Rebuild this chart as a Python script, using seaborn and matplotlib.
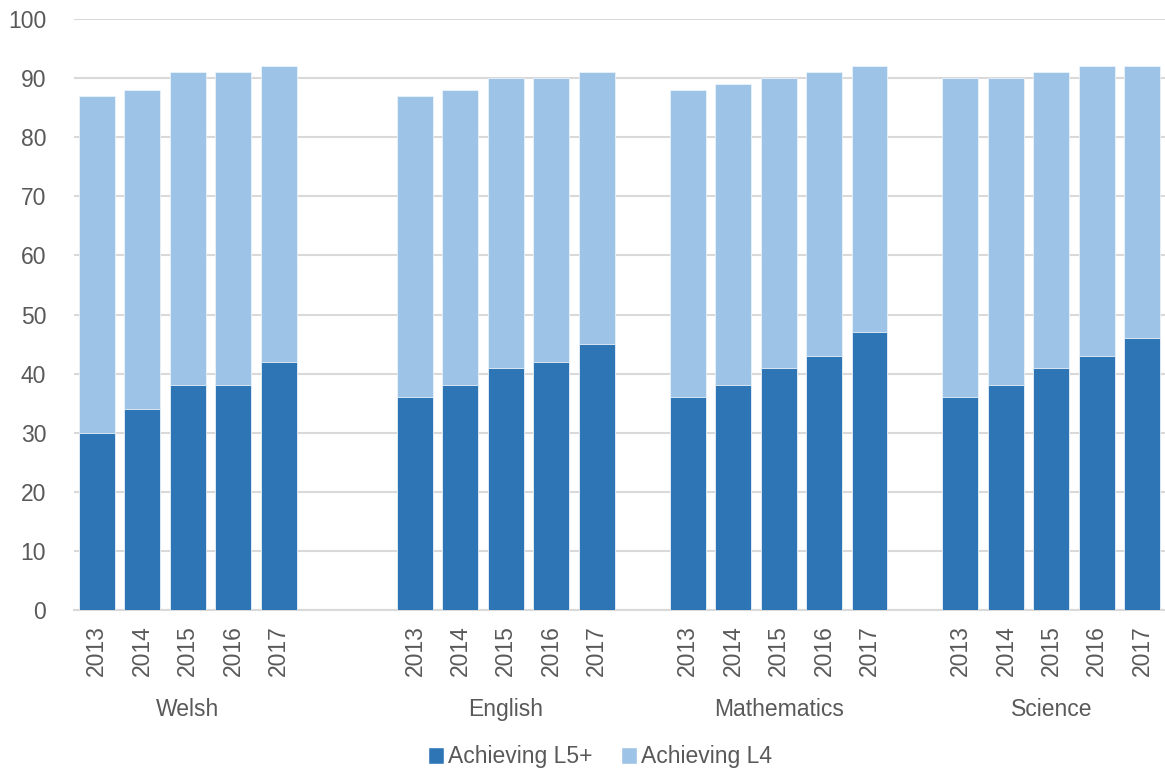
import matplotlib
matplotlib.use("Agg")
import matplotlib.pyplot as plt
import seaborn as sns
import pandas as pd
from matplotlib.patches import Patch

subjects = ["Welsh", "English", "Mathematics", "Science"]
years = ["2013", "2014", "2015", "2016", "2017"]
l5_welsh = [30, 34, 38, 38, 42]
l5_english = [36, 38, 41, 42, 45]
l5_maths = [36, 38, 41, 43, 47]
l5_science = [36, 38, 41, 43, 46]
total_welsh = [87, 88, 91, 91, 92]
total_english = [87, 88, 90, 90, 91]
total_maths = [88, 89, 90, 91, 92]
total_science = [90, 90, 91, 92, 92]
group_start = [0, 7, 13, 19]  # slot layout of the original chart (blank slots between groups)

l5_all = [l5_welsh, l5_english, l5_maths, l5_science]
tot_all = [total_welsh, total_english, total_maths, total_science]
rows = []
for s, start, l5s, tots in zip(subjects, group_start, l5_all, tot_all):
    for i, (y, a, t) in enumerate(zip(years, l5s, tots)):
        rows.append({"subject": s, "year": y, "pos": start + i, "L5": a, "total": t})
df = pd.DataFrame(rows)

sns.set_theme(style="white")
plt.rcParams["font.family"] = ["Liberation Sans", "DejaVu Sans"]

dark = "#2E75B6"
light = "#9DC3E6"
text_c = "#595959"

fig = plt.figure(figsize=(11.65, 7.72), dpi=100)
ax = fig.add_axes([74 / 1165, 1 - 610 / 772, 1091 / 1165, 591 / 772])

sns.barplot(data=df, x="pos", y="total", native_scale=True, color=light,
            width=0.79, ax=ax, saturation=1, errorbar=None, zorder=2,
            edgecolor="#EAF2FA", linewidth=0.6)
sns.barplot(data=df, x="pos", y="L5", native_scale=True, color=dark,
            width=0.79, ax=ax, saturation=1, errorbar=None, zorder=3,
            edgecolor="#EAF2FA", linewidth=0.6)

ax.set_xlim(-0.5, 23.5)
ax.set_ylim(0, 100)
ax.set_yticks(range(0, 101, 10))
ax.yaxis.grid(True, color="#D9D9D9", linewidth=1.5, zorder=0)
ax.set_axisbelow(True)
for sp in ["top", "right", "left"]:
    ax.spines[sp].set_visible(False)
ax.spines["bottom"].set_color("#D9D9D9")
ax.spines["bottom"].set_linewidth(1.5)
ax.set_xlabel("")
ax.set_ylabel("")
ax.tick_params(axis="y", length=0, labelsize=16.5, labelcolor=text_c, pad=20)
ax.set_xticks(df["pos"].tolist())
ax.set_xticklabels(df["year"].tolist(), rotation=90)
ax.tick_params(axis="x", length=0, labelsize=16.5, labelcolor=text_c, pad=11)

# group labels
for s, start in zip(subjects, group_start):
    ax.text(start + 2, -16.8, s, ha="center", va="center", fontsize=16.5,
            color=text_c, transform=ax.transData, clip_on=False)

handles = [Patch(facecolor=dark, label="Achieving L5+"),
           Patch(facecolor=light, label="Achieving L4")]
fig.legend(handles=handles, loc="center", bbox_to_anchor=(600 / 1165, 1 - 757 / 772),
           ncol=2, frameon=False, fontsize=16.5, handlelength=0.7, handleheight=0.7,
           handletextpad=0.2, columnspacing=1.2, labelcolor=text_c)

fig.savefig("out.png", dpi=100)
